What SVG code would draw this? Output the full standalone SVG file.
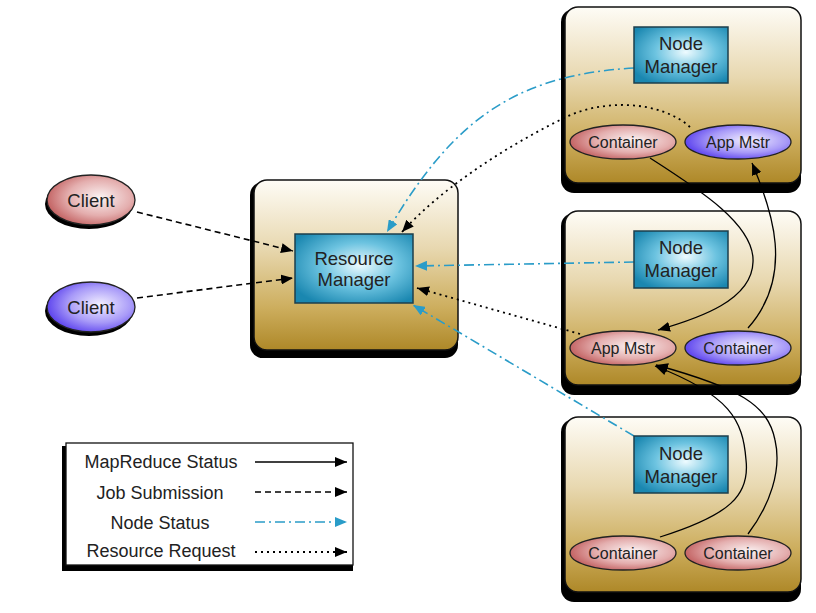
<svg xmlns="http://www.w3.org/2000/svg" width="816" height="613" viewBox="0 0 816 613">
<defs>
<linearGradient id="boxFill" x1="0" y1="0" x2="0" y2="1">
<stop offset="0" stop-color="#fefcf6"/>
<stop offset="0.4" stop-color="#e8d8b0"/>
<stop offset="0.75" stop-color="#cdae5e"/>
<stop offset="1" stop-color="#ae8828"/>
</linearGradient>
<radialGradient id="tealFill" cx="0.55" cy="0.45" r="0.65">
<stop offset="0" stop-color="#eefbff"/>
<stop offset="0.5" stop-color="#6cc3e0"/>
<stop offset="1" stop-color="#1a87b0"/>
</radialGradient>
<radialGradient id="pinkFill" cx="0.6" cy="0.45" r="0.6">
<stop offset="0" stop-color="#fbf3f3"/>
<stop offset="0.6" stop-color="#e4aeae"/>
<stop offset="1" stop-color="#c46565"/>
</radialGradient>
<radialGradient id="purpleFill" cx="0.6" cy="0.45" r="0.6">
<stop offset="0" stop-color="#f3f0ff"/>
<stop offset="0.6" stop-color="#a89af8"/>
<stop offset="1" stop-color="#5f46ee"/>
</radialGradient>
<marker id="ahBlack" viewBox="0 0 12 10" refX="12" refY="5" markerWidth="12" markerHeight="10" markerUnits="userSpaceOnUse" orient="auto">
<path d="M0,0 L12,5 L0,10 z" fill="#000"/>
</marker>
<marker id="ahTeal" viewBox="0 0 12 10" refX="12" refY="5" markerWidth="12" markerHeight="10" markerUnits="userSpaceOnUse" orient="auto">
<path d="M0,0 L12,5 L0,10 z" fill="#2a9cc8"/>
</marker>
</defs>
<style>
.box{fill:url(#boxFill);stroke:#111;stroke-width:1.5}
.shadow{fill:#000}
.nm{fill:url(#tealFill);stroke:#1d3f4c;stroke-width:1.5}
.pink{fill:url(#pinkFill);stroke:#222;stroke-width:1.3}
.purple{fill:url(#purpleFill);stroke:#222;stroke-width:1.3}
text{font-family:"Liberation Sans",Arial,Helvetica,sans-serif;fill:#222;text-anchor:middle}
.big{font-size:18.5px}
.small{font-size:16px}
.leg{font-size:18px}
.mr{fill:none;stroke:#000;stroke-width:1.3;marker-end:url(#ahBlack)}
.job{fill:none;stroke:#000;stroke-width:1.6;stroke-dasharray:6 4;marker-end:url(#ahBlack)}
.ns{fill:none;stroke:#2a9cc8;stroke-width:1.6;stroke-dasharray:10 4 2 4;marker-end:url(#ahTeal)}
.rr{fill:none;stroke:#000;stroke-width:1.8;stroke-dasharray:2 4;marker-end:url(#ahBlack)}
</style>
<rect width="816" height="613" fill="#fff"/>

<g id="rm-host">
<rect class="shadow" x="250" y="182" width="208" height="176" rx="13"/>
<rect class="box" x="254" y="180" width="204" height="170" rx="13"/>
</g>
<g id="node-box-1">
<rect class="shadow" x="561" y="9" width="240" height="184" rx="13"/>
<rect class="box" x="565" y="7" width="236" height="176" rx="13"/>
</g>
<g id="node-box-2">
<rect class="shadow" x="561" y="213" width="240" height="182" rx="13"/>
<rect class="box" x="565" y="211" width="236" height="174" rx="13"/>
</g>
<g id="node-box-3">
<rect class="shadow" x="561" y="419" width="240" height="183" rx="13"/>
<rect class="box" x="565" y="417" width="236" height="175" rx="13"/>
</g>

<g id="connectors">
<path class="job" d="M137,212 L293,251"/>
<path class="job" d="M137,298 L293,278"/>
<path class="ns" d="M634,68 C510,75 450,125 387,232"/>
<path class="ns" d="M634,262 L415,266"/>
<path class="ns" d="M634,436 L413,305"/>
<path class="rr" d="M690,127 C660,100 600,98 560,120 C500,150 440,190 402,232"/>
<path class="rr" d="M580,334 L417,288"/>
<path class="mr" d="M650,158 C700,190 755,225 753,262 C752,300 700,318 658,330"/>
<path class="mr" d="M748,328 C795,275 772,210 752,163"/>
<path class="mr" d="M660,537 C730,515 750,495 746,460 C743,420 730,395 655,366"/>
<path class="mr" d="M748,534 C770,505 782,470 775,440 C768,405 740,388 656,365"/>
</g>

<g id="client-1">
<ellipse class="shadow" cx="89" cy="204" rx="44" ry="25"/>
<ellipse class="pink" cx="91" cy="200" rx="44" ry="25"/>
<text class="big" x="91" y="207">Client</text>
</g>
<g id="client-2">
<ellipse class="shadow" cx="89" cy="311" rx="44" ry="25"/>
<ellipse class="purple" cx="91" cy="307" rx="44" ry="25"/>
<text class="big" x="91" y="314">Client</text>
</g>

<g id="resource-manager">
<rect class="nm" x="295" y="234" width="118" height="69"/>
<text class="big" x="354" y="265">Resource</text>
<text class="big" x="354" y="286">Manager</text>
</g>

<g id="node-manager-1">
<rect class="nm" x="634" y="27" width="94" height="56"/>
<text class="big" x="681" y="50">Node</text>
<text class="big" x="681" y="73">Manager</text>
</g>
<g id="container-1a">
<ellipse class="pink" cx="623" cy="142" rx="53" ry="17"/>
<text class="small" x="623" y="148">Container</text>
</g>
<g id="app-master-1">
<ellipse class="purple" cx="738" cy="142" rx="53" ry="17"/>
<text class="small" x="738" y="148">App Mstr</text>
</g>

<g id="node-manager-2">
<rect class="nm" x="634" y="231" width="94" height="57"/>
<text class="big" x="681" y="254">Node</text>
<text class="big" x="681" y="277">Manager</text>
</g>
<g id="app-master-2">
<ellipse class="pink" cx="623" cy="348" rx="53" ry="17"/>
<text class="small" x="623" y="354">App Mstr</text>
</g>
<g id="container-2b">
<ellipse class="purple" cx="738" cy="348" rx="53" ry="17"/>
<text class="small" x="738" y="354">Container</text>
</g>

<g id="node-manager-3">
<rect class="nm" x="634" y="436" width="94" height="57"/>
<text class="big" x="681" y="460">Node</text>
<text class="big" x="681" y="483">Manager</text>
</g>
<g id="container-3a">
<ellipse class="pink" cx="623" cy="553" rx="53" ry="17"/>
<text class="small" x="623" y="559">Container</text>
</g>
<g id="container-3b">
<ellipse class="pink" cx="738" cy="553" rx="53" ry="17"/>
<text class="small" x="738" y="559">Container</text>
</g>

<g id="legend">
<rect class="shadow" x="62" y="446" width="291" height="125"/>
<rect x="66" y="443" width="287" height="122" fill="#fff" stroke="#111" stroke-width="1.3"/>
<text class="leg" x="161" y="468">MapReduce Status</text>
<text class="leg" x="160" y="499">Job Submission</text>
<text class="leg" x="160" y="529">Node Status</text>
<text class="leg" x="161" y="557">Resource Request</text>
<path class="mr" d="M255,462 L347,462"/>
<path class="job" d="M255,492 L347,492"/>
<path class="ns" d="M255,522 L347,522"/>
<path class="rr" d="M255,552 L347,552"/>
</g>
</svg>
